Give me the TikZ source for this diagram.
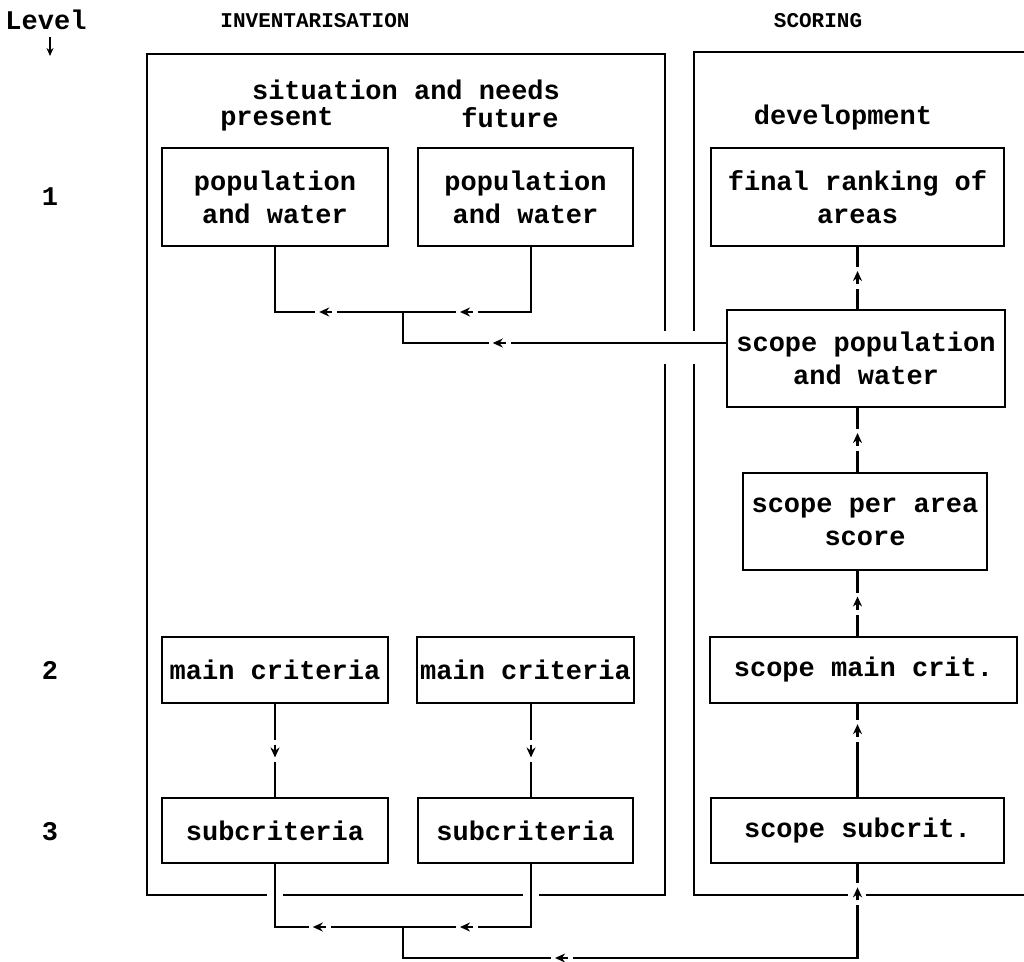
\documentclass[tikz,border=0pt]{standalone}
\usepackage{fontspec}
\newfontfamily\tw{Liberation Mono}
\usetikzlibrary{decorations.markings,arrows.meta}
\tikzset{
  box/.style={draw, line width=2.8pt, inner sep=0pt, align=center,
    font=\tw\bfseries\fontsize{27}{33}\selectfont},
  lbl/.style={inner sep=0pt, align=center, font=\tw\bfseries\fontsize{27}{33}\selectfont},
  hdr/.style={inner sep=0pt, font=\tw\bfseries\fontsize{21}{24}\selectfont},
  conn/.style={line width=2.8pt, line cap=rect},
  framel/.style={line width=2.8pt, line cap=rect, line join=miter},
  arr/.style={postaction={decorate}, decoration={markings, mark=at position #1 with {
      \fill[white] (-11,-4) rectangle (11,4);
      \draw[line width=2.6pt, line cap=butt, -{Stealth[length=10pt,width=9pt]}] (-6,0) -- (7,0);}}},
  arr/.default=0.5
}
\begin{document}
\begin{tikzpicture}[x=1pt,y=-1pt]
\useasboundingbox (0,0) rectangle (1024,961);
\clip (0,0) rectangle (1024,961);

% frames
\draw[framel] (665,330) -- (665,54) -- (147,54) -- (147,895) -- (266,895);
\draw[framel] (284,895) -- (522,895);
\draw[framel] (540,895) -- (665,895) -- (665,365);
\draw[framel] (1040,52) -- (694,52) -- (694,330);
\draw[framel] (694,365) -- (694,895) -- (847,895);
\draw[framel] (867,895) -- (1040,895);

% headings and labels
\node[lbl] (hlevel) at (46,20) {Level};
\coordinate (ltop) at (50,37);
\coordinate (lbot) at (50,56);
\draw[line width=2pt, -{Stealth[length=8pt,width=7pt]}] (ltop) -- (lbot);
\node[hdr] (hinv) at (315,21) {INVENTARISATION};
\node[hdr] (hsco) at (818,21) {SCORING};
\node[lbl] (l1) at (50,197) {1};
\node[lbl] (l2) at (50,670) {2};
\node[lbl] (l3) at (50,832) {3};
\node[lbl] (sit) at (406,90) {situation and needs};
\node[lbl] (pres) at (277,119) {present};
\node[lbl] (fut) at (510,118) {future};
\node[lbl] (dev) at (843,118) {development};

% boxes
\node[box, minimum width=226pt, minimum height=98pt] (pp) at (275,197) {population\\and water};
\node[box, minimum width=215pt, minimum height=98pt] (pf) at (525.5,197) {population\\and water};
\node[box, minimum width=293pt, minimum height=98pt] (fr) at (857.5,197) {final ranking of\\areas};
\node[box, minimum width=278pt, minimum height=97pt] (sp) at (866,358.5) {scope population\\and water};
\node[box, minimum width=244pt, minimum height=97pt] (sa) at (865,521.5) {scope per area\\score};
\node[box, minimum width=226pt, minimum height=66pt] (mc1) at (275,670) {main criteria};
\node[box, minimum width=217pt, minimum height=66pt] (mc2) at (525.5,670) {main criteria};
\node[box, minimum width=307pt, minimum height=66pt] (sm) at (863.5,670) {scope main crit.};
\node[box, minimum width=226pt, minimum height=65pt] (sc1) at (275,830.5) {subcriteria};
\node[box, minimum width=215pt, minimum height=65pt] (sc2) at (525.5,830.5) {subcriteria};
\node[box, minimum width=293pt, minimum height=65pt] (ss) at (857.5,830.5) {scope subcrit.};

% top connectors
\coordinate (j1) at (275,312);
\coordinate (j2) at (531,312);
\coordinate (jt) at (403,312);
\coordinate (jt2) at (403,343);
\draw[conn] (pp.south) -- (j1);
\draw[conn, arr=0.6] (jt) -- (j1);
\draw[conn] ([xshift=5.5pt]pf.south) -- (j2);
\draw[conn, arr=0.5] (j2) -- (jt);
\draw[conn] (jt) -- (jt2);
\draw[conn, arr=0.7] (jt2 -| sp.west) -- (jt2);

% left column
\draw[conn, arr] (mc1.south) -- (sc1.north);
\draw[conn, arr] ([xshift=5.5pt]mc2.south) -- ([xshift=5.5pt]sc2.north);

% right column
\draw[conn, arr] (fr.south |- sp.north) -- (fr.south);
\draw[conn, arr] (fr.south |- sa.north) -- (fr.south |- sp.south);
\draw[conn, arr] (fr.south |- sm.north) -- (fr.south |- sa.south);
\draw[conn, arr=0.71] (fr.south |- ss.north) -- (fr.south |- sm.south);

% bottom connectors
\coordinate (k1) at (275,927);
\coordinate (k2) at (531,927);
\coordinate (kt) at (403,927);
\coordinate (kt2) at (403,958);
\coordinate (k4) at (fr.south |- kt2);
\draw[conn] (sc1.south) -- (k1);
\draw[conn, arr=0.65] (kt) -- (k1);
\draw[conn] ([xshift=5.5pt]sc2.south) -- (k2);
\draw[conn, arr=0.5] (k2) -- (kt);
\draw[conn] (kt) -- (kt2);
\draw[conn, arr=0.65] (k4) -- (kt2);
\draw[conn, arr=0.68] (k4) -- (ss.south);
\end{tikzpicture}
\end{document}
